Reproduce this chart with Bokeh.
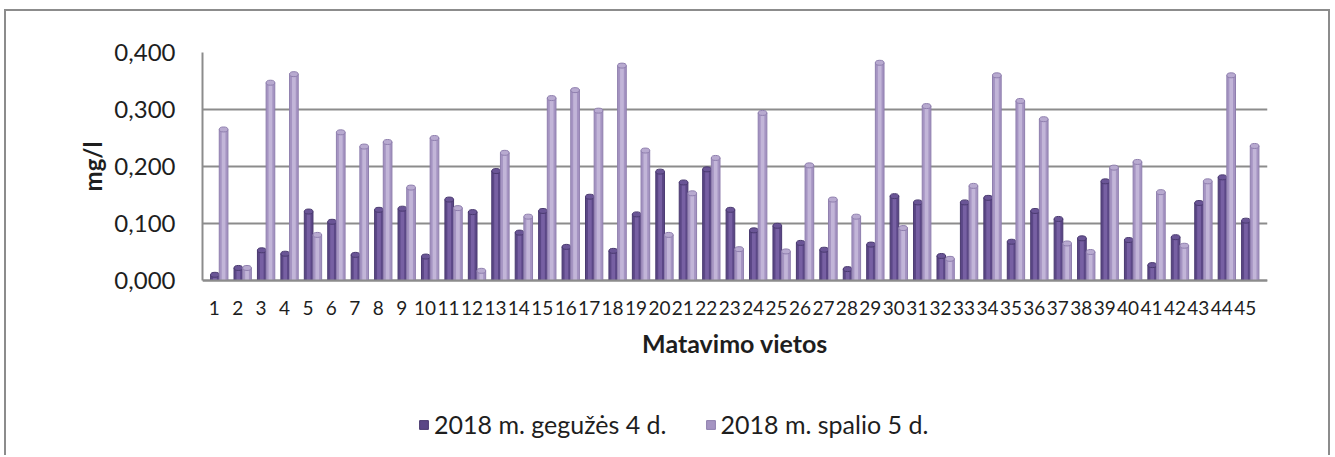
from bokeh.plotting import figure
from bokeh.models import (ColumnDataSource, Range1d, FixedTicker, Legend, LegendItem, Title)
from bokeh.transform import dodge
from bokeh.embed import file_html
from bokeh.resources import INLINE

# ---- data ----
sites = list(range(1, 46))
may_2018 = [0.010, 0.022, 0.053, 0.047, 0.121, 0.103, 0.045, 0.124, 0.126, 0.042,
            0.142, 0.120, 0.192, 0.084, 0.122, 0.059, 0.147, 0.052, 0.116, 0.191,
            0.172, 0.195, 0.124, 0.088, 0.096, 0.066, 0.054, 0.020, 0.063, 0.148,
            0.137, 0.043, 0.137, 0.145, 0.068, 0.122, 0.108, 0.074, 0.174, 0.071,
            0.027, 0.076, 0.136, 0.181, 0.105]
oct_2018 = [0.265, 0.022, 0.347, 0.362, 0.080, 0.260, 0.235, 0.243, 0.163, 0.250,
            0.127, 0.017, 0.224, 0.112, 0.320, 0.334, 0.298, 0.377, 0.228, 0.080,
            0.153, 0.215, 0.055, 0.294, 0.051, 0.202, 0.142, 0.112, 0.382, 0.092,
            0.306, 0.038, 0.166, 0.360, 0.315, 0.283, 0.065, 0.050, 0.198, 0.208,
            0.155, 0.061, 0.174, 0.360, 0.236]
series_names = ["2018 m. gegužės 4 d.", "2018 m. spalio 5 d."]
y_ticks = [0.0, 0.1, 0.2, 0.3, 0.4]
y_tick_labels = ["0,000", "0,100", "0,200", "0,300", "0,400"]
x_title = "Matavimo vietos"
y_title = "mg/l"

FONT = "Lato"
TXT = "#1e1e1e"

# layout: value axis 0..0.4 occupies 228px; frame extends 177px further down
Y_TOP = 0.4
Y_BOTTOM = -Y_TOP * 177 / 228

src = ColumnDataSource(dict(x=sites, may=may_2018, oct=oct_2018))

p = figure(width=1326, height=446, output_backend="svg", toolbar_location=None,
           x_range=Range1d(0.5, 45.95), y_range=Range1d(Y_BOTTOM, Y_TOP),
           min_border_left=196, min_border_right=65, min_border_top=41,
           min_border_bottom=0, background_fill_color="white",
           border_fill_color="white")
p.outline_line_color = None
p.styles = {"border-top": "2px solid #8c8c8c", "border-left": "2px solid #8c8c8c",
            "border-right": "2px solid #8c8c8c",
            "margin-left": "4px", "margin-top": "9px"}

W = 0.37
# dark series (May)
r1 = p.vbar(x=dodge("x", 0.03, range=p.x_range), top="may", width=W, source=src,
            fill_color="#5b4786", line_color="#4a3a70", line_width=1)
p.vbar(x=dodge("x", 0.03, range=p.x_range), top="may", width=0.16, source=src,
       fill_color="#7760a3", line_color=None)
p.ellipse(x=dodge("x", 0.03, range=p.x_range), y="may", width=W, height=5,
          height_units="screen", source=src, fill_color="#6a5596", line_color="#4a3a70")
# light series (October)
r2 = p.vbar(x=dodge("x", 0.40, range=p.x_range), top="oct", width=W, source=src,
            fill_color="#a594c2", line_color="#8f7fae", line_width=1)
p.vbar(x=dodge("x", 0.40, range=p.x_range), top="oct", width=0.16, source=src,
       fill_color="#c2b5d8", line_color=None)
p.ellipse(x=dodge("x", 0.40, range=p.x_range), y="oct", width=W, height=5,
          height_units="screen", source=src, fill_color="#b8aad0", line_color="#8f7fae")

# axes
p.xaxis.fixed_location = 0
p.xaxis.ticker = FixedTicker(ticks=sites)
p.xaxis.major_label_text_font = FONT
p.xaxis.major_label_text_font_size = "19px"
p.xaxis.major_label_text_color = TXT
p.xaxis.major_label_standoff = 14
p.xaxis.major_tick_line_color = None
p.xaxis.minor_tick_line_color = None
p.xaxis.axis_line_color = "#8c8c8c"
p.xaxis.axis_line_width = 2
p.xaxis.axis_label = x_title
p.xaxis.axis_label_text_font = FONT
p.xaxis.axis_label_text_font_style = "bold"
p.xaxis.axis_label_text_font_size = "25px"
p.xaxis.axis_label_text_color = TXT
p.xaxis.axis_label_standoff = 10

p.yaxis.bounds = (0, Y_TOP)
p.yaxis.ticker = FixedTicker(ticks=y_ticks)
p.yaxis.major_label_overrides = {t: l for t, l in zip(y_ticks, y_tick_labels)}
p.yaxis.major_label_text_font = FONT
p.yaxis.major_label_text_font_size = "24px"
p.yaxis.major_label_text_color = TXT
p.yaxis.major_label_standoff = 21
p.yaxis.major_tick_line_color = None
p.yaxis.minor_tick_line_color = None
p.yaxis.axis_line_color = "#8c8c8c"
p.yaxis.axis_line_width = 2

# y axis title, centred on the 0..0.4 value span
ytitle = Title(text=y_title, align="right", offset=89, standoff=10,
               text_font=FONT, text_font_style="bold", text_font_size="24px",
               text_color=TXT)
p.add_layout(ytitle, "left")

p.xgrid.grid_line_color = None
p.ygrid.grid_line_color = "#8c8c8c"
p.ygrid.grid_line_width = 2

legend = Legend(items=[LegendItem(label=series_names[0], renderers=[r1]),
                       LegendItem(label=series_names[1], renderers=[r2])],
                orientation="horizontal", location=(216, 18),
                label_text_font=FONT, label_text_font_size="25px",
                label_text_color=TXT, glyph_width=11, glyph_height=11,
                label_standoff=5, spacing=38, padding=0, margin=0,
                border_line_color=None, background_fill_alpha=0)
p.add_layout(legend, "center")

open("out.html", "w").write(file_html(p, INLINE))
